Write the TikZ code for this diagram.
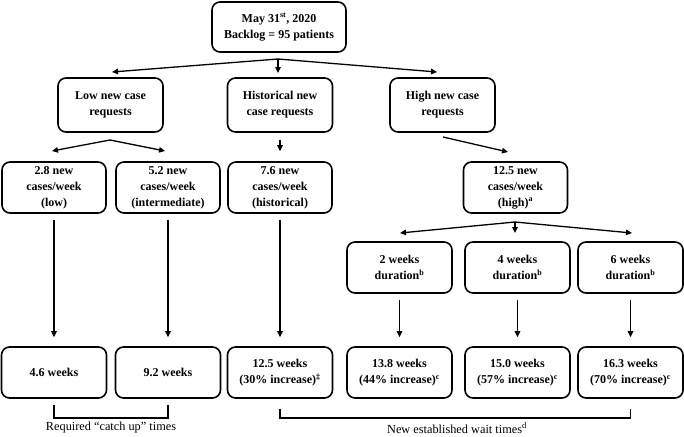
\documentclass[tikz,border=0pt]{standalone}
\usepackage{fontspec}
\setmainfont{Liberation Serif}
\usetikzlibrary{arrows.meta}

\begin{document}
\begin{tikzpicture}[x=1pt, y=-1pt, font=\fontsize{12.3}{16}\selectfont,
        box/.style = {draw, line width=1.6pt, rounded corners=8pt, align=center, inner sep=0pt,
            minimum width=105pt, minimum height=51pt, font=\fontsize{12}{16}\selectfont\bfseries},
        arr/.style = {line width=1.3pt, -{Triangle[length=6pt,width=5.5pt]}},
        down/.style = {arr, shorten <=6pt, shorten >=9pt},
        bracket/.style = {line width=1.5pt}]
        \useasboundingbox (0,0) rectangle (684,436);

        % boxes
        \node[box, minimum width=134pt, minimum height=50pt] (start) at (279,27) {May 31\textsuperscript{st}, 2020\\Backlog = 95 patients};

        \node[box, minimum height=54pt] (low)  at (110.5,105) {Low new case\\requests};
        \node[box, minimum height=54pt] (hist) at (280,105)   {Historical new\\case requests};
        \node[box, minimum height=54pt] (high) at (442.5,105) {High new case\\requests};

        \node[box, minimum width=104pt] (c28)  at (54,187.5)  {2.8 new\\cases/week\\(low)};
        \node[box, minimum width=104pt] (c52)  at (168,187.5) {5.2 new\\cases/week\\(intermediate)};
        \node[box, minimum width=104pt] (c76)  at (280,187.5) {7.6 new\\cases/week\\(historical)};
        \node[box, minimum width=104pt] (c125) at (515.5,187.5) {12.5 new\\cases/week\\(high)\textsuperscript{a}};

        \node[box] (d2) at (399.5,267.5) {2 weeks\\duration\textsuperscript{b}};
        \node[box] (d4) at (517.5,267.5) {4 weeks\\duration\textsuperscript{b}};
        \node[box] (d6) at (630.5,267.5) {6 weeks\\duration\textsuperscript{b}};

        \node[box] (w46)  at (54,372.5)    {4.6 weeks};
        \node[box] (w92)  at (168,372.5)   {9.2 weeks};
        \node[box] (w125) at (280,372.5)   {12.5 weeks\\(30\% increase)\textsuperscript{‡}};
        \node[box] (w138) at (399.5,372.5) {13.8 weeks\\(44\% increase)\textsuperscript{c}};
        \node[box] (w150) at (517.5,372.5) {15.0 weeks\\(57\% increase)\textsuperscript{c}};
        \node[box] (w163) at (630.5,372.5) {16.3 weeks\\(70\% increase)\textsuperscript{c}};

        % split points
        \coordinate (s0) at (278,59);
        \coordinate (s0l) at (112,72);
        \coordinate (s0m) at (278,73);
        \coordinate (s0r) at (437,72);
        \coordinate (s1) at (110,140);
        \coordinate (s1l) at (52,151);
        \coordinate (s1r) at (165,151);
        \coordinate (h1) at (443,137);
        \coordinate (h2) at (508,152);
        \coordinate (s2) at (515,222);
        \coordinate (s2l) at (400,233);
        \coordinate (s2m) at (515,233);
        \coordinate (s2r) at (632,233);

        \draw[arr] (s0) -- (s0l);
        \draw[arr] (s0) -- (s0m);
        \draw[arr] (s0) -- (s0r);
        \draw[arr] (s1) -- (s1l);
        \draw[arr] (s1) -- (s1r);
        \draw[arr, shorten <=7pt, shorten >=10pt] (hist) -- (c76);
        \draw[arr] (h1) -- (h2);
        \draw[arr] (s2) -- (s2l);
        \draw[arr] (s2) -- (s2m);
        \draw[arr] (s2) -- (s2r);

        \draw[down] (c28) -- (w46);
        \draw[down] (c52) -- (w92);
        \draw[down] (c76) -- (w125);
        \draw[down] (d2) -- (w138);
        \draw[down] (d4) -- (w150);
        \draw[down] (d6) -- (w163);

        % brackets
        \draw[bracket] ([yshift=-6pt]w46.south) -- ([yshift=-19pt]w46.south) -- ([yshift=-19pt]w92.south) -- ([yshift=-6pt]w92.south);
        \draw[bracket] ([yshift=-10pt]w125.south) -- ([yshift=-19pt]w125.south) -- ([yshift=-19pt]w163.south) -- ([yshift=-10pt]w163.south);
        \node (catchup) at (111,428) {Required ``catch up'' times};
        \node (newwait) at (457,428) {New established wait times\textsuperscript{d}};
    \end{tikzpicture}
\end{document}
